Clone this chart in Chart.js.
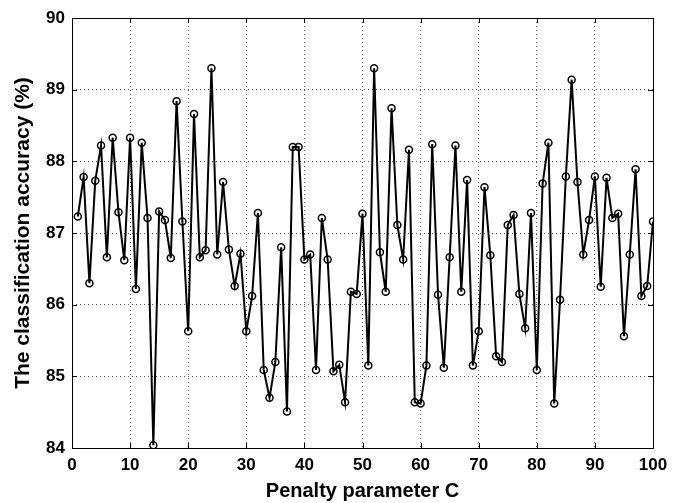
<!DOCTYPE html>
<html>
<head>
<meta charset="utf-8">
<script src="https://cdn.jsdelivr.net/npm/chart.js@4/dist/chart.umd.min.js"></script>
<style>
  html, body { margin: 0; padding: 0; background: #fff; }
  #wrap { width: 678px; height: 503px; }
</style>
</head>
<body>
<div id="wrap"><canvas id="grafico"></canvas></div>
<script>
// valori (C = 1..100)
const penalita = Array.from({ length: 100 }, (_, i) => i + 1);
const accuratezza = [
  87.23, 87.78, 86.30, 87.73, 88.22, 86.66, 88.33, 87.29, 86.62, 88.33,
  86.22, 88.26, 87.21, 84.04, 87.30, 87.18, 86.65, 88.84, 87.16, 85.63,
  88.66, 86.66, 86.76, 89.30, 86.70, 87.71, 86.77, 86.26, 86.71, 85.63,
  86.12, 87.28, 85.09, 84.70, 85.20, 86.80, 84.51, 88.20, 88.20, 86.63,
  86.70, 85.09, 87.21, 86.63, 85.07, 85.16, 84.64, 86.18, 86.15, 87.27,
  85.15, 89.30, 86.73, 86.18, 88.74, 87.11, 86.63, 88.16, 84.64, 84.62,
  85.15, 88.24, 86.14, 85.12, 86.66, 88.22, 86.18, 87.74, 85.15, 85.63,
  87.64, 86.69, 85.28, 85.20, 87.11, 87.25, 86.15, 85.67, 87.28, 85.09,
  87.69, 88.26, 84.62, 86.07, 87.79, 89.14, 87.71, 86.70, 87.18, 87.79,
  86.25, 87.77, 87.21, 87.27, 85.56, 86.70, 87.89, 86.12, 86.26, 87.16
];

const fontAssi = "'Liberation Sans Narrow', 'Liberation Sans', Arial, sans-serif";
const fontTitoli = "'Liberation Sans', Arial, sans-serif";

// cornice nera e tacche interne come in MATLAB
const cornice = {
  id: 'cornice',
  afterDraw(chart) {
    const { ctx, chartArea: a, scales } = chart;
    const t = 5;
    ctx.save();
    ctx.strokeStyle = '#000';
    ctx.lineWidth = 1;
    ctx.strokeRect(a.left + 0.5, a.top + 0.5, a.right - a.left, a.bottom - a.top);
    ctx.beginPath();
    scales.x.ticks.forEach(tk => {
      const px = Math.round(scales.x.getPixelForValue(tk.value)) + 0.5;
      ctx.moveTo(px, a.bottom); ctx.lineTo(px, a.bottom - t);
      ctx.moveTo(px, a.top); ctx.lineTo(px, a.top + t);
    });
    scales.y.ticks.forEach(tk => {
      const py = Math.round(scales.y.getPixelForValue(tk.value)) + 0.5;
      ctx.moveTo(a.left, py); ctx.lineTo(a.left + t, py);
      ctx.moveTo(a.right, py); ctx.lineTo(a.right - t, py);
    });
    ctx.stroke();
    ctx.restore();
  }
};

const ctx = document.getElementById('grafico').getContext('2d');
new Chart(ctx, {
  type: 'line',
  data: {
    datasets: [{
      data: penalita.map((c, i) => ({ x: c, y: accuratezza[i] })),
      borderColor: '#000',
      borderWidth: 2,
      pointRadius: 3.5,
      pointBorderWidth: 1.5,
      pointBorderColor: '#000',
      pointBackgroundColor: 'rgba(255,255,255,0)',
      tension: 0,
      fill: false
    }]
  },
  options: {
    responsive: true,
    maintainAspectRatio: false,
    animation: false,
    layout: { padding: { left: 0, right: 25, top: 18, bottom: 0 } },
    plugins: { legend: { display: false }, tooltip: { enabled: false } },
    scales: {
      x: {
        type: 'linear',
        min: 0,
        max: 100,
        afterFit: (s) => { s.height = 55; },
        ticks: { stepSize: 10, color: '#000', padding: 7, font: { family: fontAssi, size: 17, weight: 'bold' } },
        grid: { color: '#555', lineWidth: 1, drawTicks: false },
        border: { display: false, dash: [1, 3] },
        title: { display: true, text: 'Penalty parameter C', color: '#000', padding: { top: 0, bottom: 0 }, font: { family: fontTitoli, size: 20, weight: 'bold' } }
      },
      y: {
        min: 84,
        max: 90,
        afterFit: (s) => { s.width = 72; },
        ticks: { stepSize: 1, color: '#000', padding: 7, font: { family: fontAssi, size: 17, weight: 'bold' } },
        grid: { color: '#555', lineWidth: 1, drawTicks: false },
        border: { display: false, dash: [1, 3] },
        title: { display: true, text: 'The classification accuracy (%)', color: '#000', padding: { top: 11, bottom: 0 }, font: { family: fontTitoli, size: 21, weight: 'bold' } }
      }
    }
  },
  plugins: [cornice]
});
</script>
</body>
</html>
